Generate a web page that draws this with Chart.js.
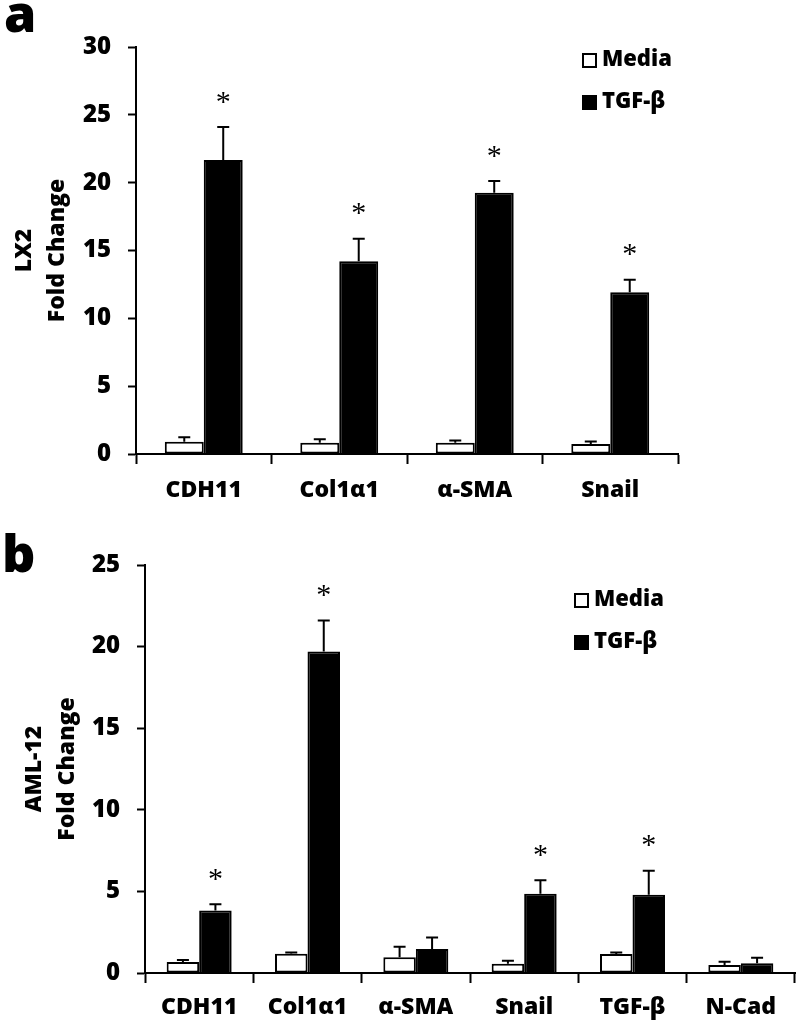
<!DOCTYPE html>
<html>
<head>
<meta charset="utf-8">
<script src="https://cdn.jsdelivr.net/npm/chart.js@4"></script>
<style>
  body { margin: 0; background: #fff; }
  .panel { position: absolute; left: 0; width: 800px; }
  #panelA { top: 0; height: 530px; }
  #panelB { top: 520px; height: 509px; }
</style>
</head>
<body>
<div class="panel" id="panelA"><canvas id="chartA"></canvas></div>
<div class="panel" id="panelB"><canvas id="chartB"></canvas></div>
<script>
// panel a - LX2
const genesA = ["CDH11", "Col1\u03b11", "\u03b1-SMA", "Snail"];
const mediaA = [0.9, 0.83, 0.83, 0.73];
const mediaErrA = [0.33, 0.25, 0.17, 0.2];
const tgfA = [21.67, 14.2, 19.26, 11.93];
const tgfErrA = [2.43, 1.66, 0.86, 0.92];
const starsA = [true, true, true, true];
const ticksA = [0, 5, 10, 15, 20, 25, 30];

// panel b - AML-12
const genesB = ["CDH11", "Col1\u03b11", "\u03b1-SMA", "Snail", "TGF-\u03b2", "N-Cad"];
const mediaB = [0.67, 1.18, 0.96, 0.57, 1.16, 0.49];
const mediaErrB = [0.13, 0.08, 0.65, 0.18, 0.1, 0.2];
const tgfB = [3.83, 19.7, 1.47, 4.86, 4.8, 0.59];
const tgfErrB = [0.39, 1.9, 0.71, 0.83, 1.47, 0.35];
const starsB = [true, true, false, true, true, false];
const ticksB = [0, 5, 10, 15, 20, 25];

const seriesNames = ["Media", "TGF-\u03b2"];
const FONT = "'Open Sans', sans-serif";
const W = "800";

// error bars, asterisks, legend, axis title, panel letter
const extras = {
    id: "extras",
    afterDatasetsDraw(chart, args, opts) {
        const ctx = chart.ctx;
        const y = chart.scales.y;
        const area = chart.chartArea;
        ctx.save();
        ctx.strokeStyle = "#000";
        ctx.fillStyle = "#000";
        ctx.lineWidth = 2;

        chart.data.datasets.forEach((ds, i) => {
            const meta = chart.getDatasetMeta(i);
            meta.data.forEach((bar, j) => {
                const top = y.getPixelForValue(ds.data[j] + ds.errors[j]);
                ctx.beginPath();
                ctx.moveTo(bar.x, bar.y);
                ctx.lineTo(bar.x, top);
                ctx.moveTo(bar.x - 6, top);
                ctx.lineTo(bar.x + 6, top);
                ctx.stroke();
                if (ds.stars && ds.stars[j]) {
                    ctx.font = "30px 'Liberation Serif', serif";
                    ctx.textAlign = "center";
                    ctx.textBaseline = "alphabetic";
                    const m = ctx.measureText("*");
                    const mid = (m.actualBoundingBoxAscent - m.actualBoundingBoxDescent) / 2;
                    ctx.fillText("*", bar.x, top - 30 + mid);
                }
            });
        });

        // legend
        ctx.textAlign = "left";
        ctx.textBaseline = "middle";
        ctx.font = W + " 22px " + FONT;
        chart.data.datasets.forEach((ds, i) => {
            const bx = opts.legendX;
            const by = area.top + opts.legendY + i * 42;
            ctx.fillStyle = ds.backgroundColor;
            ctx.fillRect(bx, by, 15, 15);
            ctx.strokeRect(bx + 1, by + 1, 13, 13);
            ctx.fillStyle = "#000";
            ctx.fillText(ds.label, bx + 20, by + 7);
        });

        // y axis title, two lines
        const cy = (area.top + area.bottom) / 2;
        ctx.save();
        ctx.translate(opts.titleX, cy);
        ctx.rotate(-Math.PI / 2);
        ctx.textAlign = "center";
        ctx.textBaseline = "middle";
        ctx.font = W + " 23px " + FONT;
        ctx.fillText(opts.title[0], 0, 0);
        ctx.fillText(opts.title[1], 0, 33);
        ctx.restore();

        // panel letter
        ctx.font = W + " 52px " + FONT;
        ctx.textAlign = "left";
        ctx.textBaseline = "alphabetic";
        ctx.fillText(opts.letter, opts.letterX, opts.letterY);
        ctx.restore();
    }
};

const makePanel = (id, genes, media, mediaErr, tgf, tgfErr, stars, ticks, layout) => {
    return new Chart(document.getElementById(id), {
        type: "bar",
        data: {
            labels: genes,
            datasets: [
                {
                    label: seriesNames[0],
                    data: media,
                    errors: mediaErr,
                    backgroundColor: "#ffffff",
                    borderColor: "#000000",
                    borderWidth: 2,
                    borderSkipped: false,
                    categoryPercentage: layout.catPct,
                    barPercentage: 1,
                },
                {
                    label: seriesNames[1],
                    data: tgf,
                    errors: tgfErr,
                    stars: stars,
                    backgroundColor: "#000000",
                    borderColor: "#000000",
                    borderWidth: 2,
                    categoryPercentage: layout.catPct,
                    barPercentage: 1,
                },
            ],
        },
        options: {
            responsive: true,
            maintainAspectRatio: false,
            animation: false,
            layout: { padding: { top: layout.top, right: layout.right, left: 0, bottom: 0 } },
            plugins: {
                legend: { display: false },
                tooltip: { enabled: false },
                extras: layout.extras,
            },
            scales: {
                x: {
                    afterFit: (s) => { s.height = layout.xHeight; },
                    grid: { drawOnChartArea: false, tickLength: 10, tickWidth: 2, tickColor: "#000" },
                    border: { color: "#000", width: 2 },
                    ticks: { color: "#000", padding: layout.xPad, font: { family: FONT, size: 23, weight: W } },
                },
                y: {
                    min: ticks[0],
                    max: ticks[ticks.length - 1],
                    afterFit: (s) => { s.width = layout.yWidth; },
                    afterBuildTicks: (s) => { s.ticks = ticks.map((v) => ({ value: v })); },
                    grid: { drawOnChartArea: false, tickLength: 8, tickWidth: 2, tickColor: "#000" },
                    border: { color: "#000", width: 2 },
                    ticks: { color: "#000", padding: 17, font: { family: FONT, size: 24, weight: W } },
                },
            },
        },
        plugins: [extras],
    });
};

makePanel("chartA", genesA, mediaA, mediaErrA, tgfA, tgfErrA, starsA, ticksA, {
    catPct: 0.575, top: 47, right: 122, xHeight: 76, xPad: 13, yWidth: 136,
    extras: { legendX: 582, legendY: 6, titleX: 24, title: ["LX2", "Fold Change"], letter: "a", letterX: 4, letterY: 32 },
});

makePanel("chartB", genesB, mediaB, mediaErrB, tgfB, tgfErrB, starsB, ticksB, {
    catPct: 0.6, top: 45, right: 5, xHeight: 56, xPad: 11, yWidth: 145,
    extras: { legendX: 574, legendY: 28, titleX: 34, title: ["AML-12", "Fold Change"], letter: "b", letterX: 2, letterY: 52 },
});
</script>
</body>
</html>
